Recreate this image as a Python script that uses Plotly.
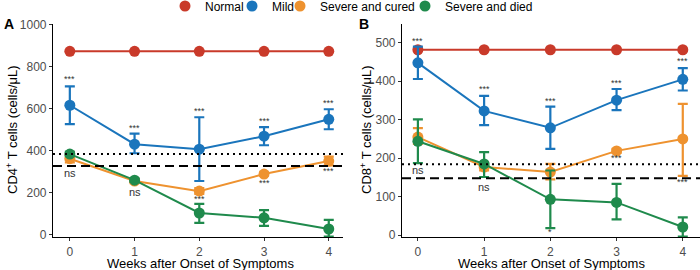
import plotly.graph_objects as go

weeks = [0, 1, 2, 3, 4]
groups = ["Normal", "Mild", "Severe and cured", "Severe and died"]
colors = ["#C93A2A", "#1A75BC", "#EE922F", "#1F8A4C"]

# Panel A: CD4+ T cells (mean, upper, lower)
cd4_mean = {
    "Normal": [872, 872, 872, 872, 872],
    "Mild": [616, 431, 407, 469, 549],
    "Severe and cured": [362, 256, 208, 289, 351],
    "Severe and died": [384, 260, 104, 81, 28],
}
cd4_upper = {
    "Normal": [872, 872, 872, 872, 872],
    "Mild": [706, 481, 559, 512, 597],
    "Severe and cured": [380, 266, 222, 297, 372],
    "Severe and died": [394, 268, 147, 118, 71],
}
cd4_lower = {
    "Normal": [872, 872, 872, 872, 872],
    "Mild": [526, 388, 256, 426, 502],
    "Severe and cured": [344, 246, 195, 281, 330],
    "Severe and died": [374, 252, 57, 43, -8],
}
cd4_dotted = 384
cd4_dashed = 327

# Panel B: CD8+ T cells (mean, upper, lower)
cd8_mean = {
    "Normal": [482, 482, 482, 482, 482],
    "Mild": [448, 323, 279, 351, 405],
    "Severe and cured": [255, 177, 164, 219, 250],
    "Severe and died": [244, 185, 93, 85, 21],
}
cd8_upper = {
    "Normal": [482, 482, 482, 482, 482],
    "Mild": [490, 362, 334, 380, 434],
    "Severe and cured": [278, 186, 185, 224, 341],
    "Severe and died": [301, 216, 168, 133, 46],
}
cd8_lower = {
    "Normal": [482, 482, 482, 482, 482],
    "Mild": [406, 286, 224, 325, 376],
    "Severe and cured": [237, 168, 145, 214, 154],
    "Severe and died": [187, 151, 18, 41, -4],
}
cd8_dotted = 184
cd8_dashed = 148

# Significance labels
cd4_top_labels = ["***", "***", "***", "***", "***"]
cd4_top_y = [740, 510, 590, 540, 625]
cd4_bot_labels = ["ns", "ns", "***", "***", "***"]
cd4_bot_y = [295, 205, 170, 245, 305]
cd8_top_labels = ["***", "***", "***", "***", "***"]
cd8_top_y = [505, 380, 350, 396, 452]
cd8_bot_labels = ["ns", "ns", "*", "***", "***"]
cd8_bot_y = [169, 125, 8, 200, 137]

FONT = "Liberation Sans, Arial, sans-serif"
legend_ids = ["legend", "legend2", "legend3", "legend4"]
legend_text_px = [203, 270, 318, 443]

fig = go.Figure()


def add_panel(mean, upper, lower, xa, ya):
    for g, c in zip(groups, colors):
        m = mean[g]
        plus = [u - v for u, v in zip(upper[g], m)]
        minus = [v - l for v, l in zip(m, lower[g])]
        fig.add_trace(go.Scatter(
            x=weeks, y=m, mode="lines+markers", name=g,
            line=dict(color=c, width=2),
            marker=dict(color=c, size=11),
            error_y=dict(type="data", array=plus, arrayminus=minus,
                         color=c, thickness=2.2, width=5,
                         visible=(g != "Normal")),
            xaxis=xa, yaxis=ya, showlegend=False, legendgroup=g,
        ))


add_panel(cd4_mean, cd4_upper, cd4_lower, "x", "y")
add_panel(cd8_mean, cd8_upper, cd8_lower, "x2", "y2")

# legend-only entries (marker keys)
for g, c, lid in zip(groups, colors, legend_ids):
    fig.add_trace(go.Scatter(x=[None], y=[None], mode="markers", name=g,
                             marker=dict(color=c, size=11), legendgroup=g, legend=lid,
                             showlegend=True, xaxis="x", yaxis="y"))

# reference lines
for xr, yr, dot, dash in [("x", "y", cd4_dotted, cd4_dashed), ("x2", "y2", cd8_dotted, cd8_dashed)]:
    fig.add_shape(type="line", xref=xr + " domain", yref=yr, x0=0, x1=1, y0=dot, y1=dot,
                  line=dict(color="black", width=2, dash="2px,4px"))
    fig.add_shape(type="line", xref=xr + " domain", yref=yr, x0=0, x1=1, y0=dash, y1=dash,
                  line=dict(color="black", width=2, dash="9px,5px"))

annots = []
for xr, yr, labs, ys in [("x", "y", cd4_top_labels, cd4_top_y), ("x", "y", cd4_bot_labels, cd4_bot_y),
                         ("x2", "y2", cd8_top_labels, cd8_top_y), ("x2", "y2", cd8_bot_labels, cd8_bot_y)]:
    for w, t, yv in zip(weeks, labs, ys):
        annots.append(dict(x=w, y=yv, xref=xr, yref=yr, text=t, showarrow=False,
                           font=dict(size=11 if t == "ns" else 9, color="#333333", family=FONT)))

# plot area in pixels: left 53, width 647, top 24, height 213
def px(xp):
    return (xp - 53) / 647.0


def py(yp):
    return (237 - yp) / 213.0


# panel letters
annots.append(dict(x=px(9), y=py(24), xref="paper", yref="paper", text="<b>A</b>", showarrow=False,
                   xanchor="center", yanchor="middle", font=dict(size=14, color="black", family=FONT)))
annots.append(dict(x=px(364), y=py(24), xref="paper", yref="paper", text="<b>B</b>", showarrow=False,
                   xanchor="center", yanchor="middle", font=dict(size=14, color="black", family=FONT)))

# y titles
annots.append(dict(x=px(12), y=py(130), xref="paper", yref="paper", text="CD4<sup>+</sup> T cells (cells/μL)",
                   textangle=-90, showarrow=False, xanchor="center", yanchor="middle",
                   font=dict(size=13, color="black", family=FONT)))
annots.append(dict(x=px(366), y=py(130), xref="paper", yref="paper", text="CD8<sup>+</sup> T cells (cells/μL)",
                   textangle=-90, showarrow=False, xanchor="center", yanchor="middle",
                   font=dict(size=13, color="black", family=FONT)))
# x titles
annots.append(dict(x=px(200), y=py(263), xref="paper", yref="paper", text="Weeks after Onset of Symptoms",
                   showarrow=False, xanchor="center", yanchor="middle", borderpad=0,
                   font=dict(size=13, color="black", family=FONT)))
annots.append(dict(x=px(551), y=py(263), xref="paper", yref="paper", text="Weeks after Onset of Symptoms",
                   showarrow=False, xanchor="center", yanchor="middle", borderpad=0,
                   font=dict(size=13, color="black", family=FONT)))

axis_common = dict(showgrid=False, zeroline=False, showline=True, linecolor="black", linewidth=1.2,
                   ticks="outside", ticklen=3, tickcolor="#333333", automargin=False,
                   tickfont=dict(size=12, color="#4D4D4D", family=FONT))

legend_layouts = {}
for lid, tx in zip(legend_ids, legend_text_px):
    legend_layouts[lid] = dict(orientation="h", x=px(tx - 38), xanchor="left", y=py(6), yanchor="middle",
                               font=dict(size=12, color="black", family=FONT), itemwidth=30,
                               bgcolor="rgba(0,0,0,0)", borderwidth=0)

fig.update_layout(
    width=700, height=270,
    margin=dict(l=53, r=0, t=24, b=33, autoexpand=False),
    plot_bgcolor="white", paper_bgcolor="white",
    font=dict(family=FONT),
    xaxis=dict(domain=[0, px(343)], range=[-0.26, 4.22], tickvals=weeks, anchor="y", **axis_common),
    yaxis=dict(domain=[0, 1], range=[-10, 1002], tickvals=[0, 200, 400, 600, 800, 1000], anchor="x",
               **axis_common),
    xaxis2=dict(domain=[px(402), 1], range=[-0.24, 4.26], tickvals=weeks, anchor="y2", **axis_common),
    yaxis2=dict(domain=[0, 1], range=[-5, 549], tickvals=[0, 100, 200, 300, 400, 500], anchor="x2",
                **axis_common),
    annotations=annots,
    showlegend=True,
    **legend_layouts,
)

fig.write_html("out.html", config={"displayModeBar": False},
               post_script="document.body.style.margin='0';")
